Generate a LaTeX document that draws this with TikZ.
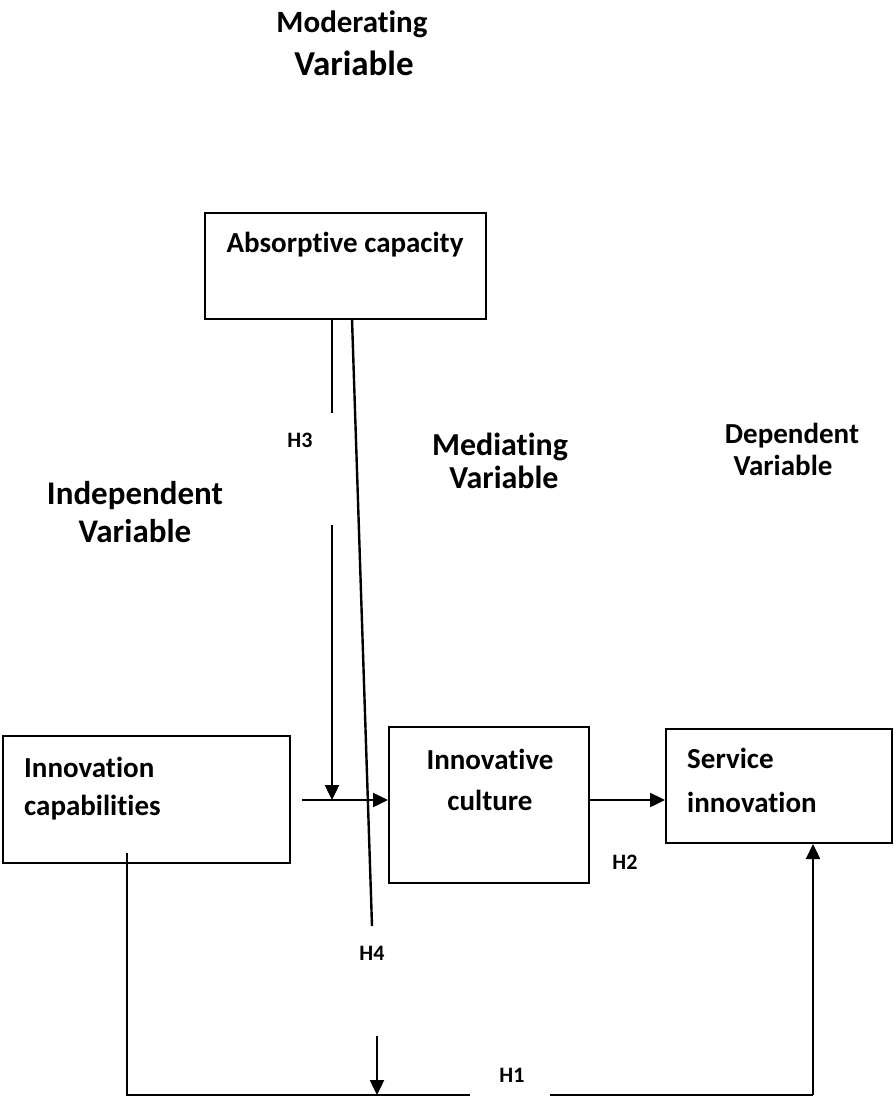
\documentclass[tikz,border=0pt]{standalone}
\usepackage{fontspec}
\setmainfont{Carlito}[Ligatures={NoCommon}]
\usetikzlibrary{arrows.meta}
\begin{document}
\begin{tikzpicture}[x=1pt,y=-1pt,
  box/.style={draw,line width=2pt,inner sep=0pt},
  head/.style={font=\bfseries\fontsize{#1}{#1}\selectfont,inner sep=0pt,anchor=base},
  txt/.style={font=\bfseries\fontsize{29}{41}\selectfont,inner sep=0pt},
  hyp/.style={font=\bfseries\fontsize{22}{25}\selectfont,inner sep=0pt},
  conn/.style={line width=2.4pt},
  arr/.style={line width=2.4pt,-{Triangle[length=15pt,width=14pt]}}]
\useasboundingbox (0,0) rectangle (895,1100);

% boxes
\node[box,minimum width=281pt,minimum height=106pt] (abs) at (345.5,266) {};
\node[box,minimum width=287pt,minimum height=127pt] (ic) at (146.5,799.5) {};
\node[box,minimum width=200pt,minimum height=156pt] (cul) at (489,805) {};
\node[box,minimum width=226pt,minimum height=114pt] (si) at (779,786) {};

% box texts
\node[txt] (absT) at (345,245) {Absorptive capacity};
\node[txt,anchor=west] (icT1) at (24,767) {Innovation};
\node[txt,anchor=west] (icT2) at (24,808) {capabilities};
\node[txt] (culT1) at (490,759) {Innovative};
\node[txt] (culT2) at (490,800) {culture};
\node[txt,anchor=west] (siT1) at (687,758) {Service};
\node[txt,anchor=west] (siT2) at (687,802) {innovation};

% headings
\node[head=31] (modA) at (352,32) {Moderating};
\node[head=35] (modB) at (354,75) {Variable};
\node[head=32] (medA) at (500,455) {Mediating};
\node[head=32] (medB) at (504,488) {Variable};
\node[head=29] (depA) at (792,443) {Dependent};
\node[head=29] (depB) at (783,475) {Variable};
\node[head=33] (indA) at (135,504) {Independent};
\node[head=33] (indB) at (135,542) {Variable};

% hypothesis labels
\node[hyp] (h3) at (300,440) {H3};
\node[hyp] (h2) at (625,862) {H2};
\node[hyp] (h4) at (372,953) {H4};
\node[hyp] (h1) at (512,1075) {H1};

% coordinates
\coordinate (a1) at (332,319);
\coordinate (a2) at (332,413);
\coordinate (b1) at (352,319);
\coordinate (b2) at (372,926);
\coordinate (h3s) at (332,525);
\coordinate (h3e) at (332,800);
\coordinate (hs) at (302,800);
\coordinate (ics) at (127,853);
\coordinate (bl) at (127,1095);
\coordinate (bm) at (470,1095);
\coordinate (h4s) at (377,1036);
\coordinate (h4e) at (377,1095);
\coordinate (rs) at (550,1095);
\coordinate (rc) at (813,1095);

% connectors
\draw[conn] (a1) -- (a2);
\draw[conn] (b1) -- (b2);
\draw[arr] (h3s) -- (h3e);
\draw[arr] (hs) -- (cul.west |- hs);
\draw[arr] (cul.east |- hs) -- (si.west |- hs);
\draw[conn] (ics) -- (bl) -- (bm);
\draw[arr] (h4s) -- (h4e);
\draw[conn] (rs) -- (rc);
\draw[arr] (rc) -- (si.south -| rc);
\end{tikzpicture}
\end{document}
